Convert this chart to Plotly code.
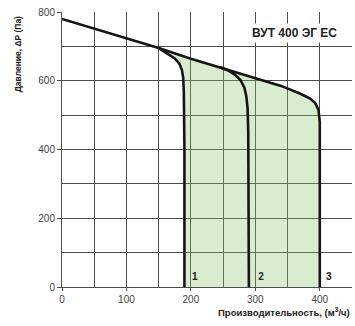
import plotly.graph_objects as go

# fan curve (3) and speed branches (1, 2)
main_x = [0, 150, 200, 250, 300, 340, 370, 385, 393, 398, 400, 400]
main_y = [780, 695, 664, 636, 606, 585, 562, 548, 535, 515, 480, 0]
c1_x = [150, 165, 175, 182, 186, 188, 189, 190, 190]
c1_y = [695, 678, 665, 650, 632, 610, 570, 400, 0]
c2_x = [245, 258, 268, 277, 283, 286, 288, 289, 290]
c2_y = [640, 630, 618, 602, 580, 555, 520, 450, 0]

curve_labels = ["1", "2", "3"]
label_x = [206, 309, 414]
label_y = [29, 29, 29]

# shaded working area: curve 1 up, along main curve, down to 0
fill_x = c1_x[::-1] + [x for x in main_x if x >= 150]
fill_y = c1_y[::-1] + [y for x, y in zip(main_x, main_y) if x >= 150]

line = dict(color="#151515", width=2.6)
fig = go.Figure()
fig.add_trace(go.Scatter(x=fill_x, y=fill_y, fill="toself", mode="lines",
                         line=dict(width=0), fillcolor="rgba(138,195,108,0.32)",
                         hoverinfo="skip"))
fig.add_trace(go.Scatter(x=main_x, y=main_y, mode="lines", line=line))
fig.add_trace(go.Scatter(x=c1_x, y=c1_y, mode="lines", line=line))
fig.add_trace(go.Scatter(x=c2_x, y=c2_y, mode="lines", line=line))
fig.add_trace(go.Scatter(x=label_x, y=label_y, mode="text", text=curve_labels,
                         textfont=dict(size=10, color="#222", family="Liberation Sans"),
                         texttemplate="<b>%{text}</b>"))

grid = "#4d4d4d"
fig.update_xaxes(range=[0, 450], tickvals=[0, 100, 200, 300, 400], showgrid=False,
                 minor=dict(tickvals=[50, 100, 150, 200, 250, 300, 350, 400, 450],
                            showgrid=True, gridcolor=grid, gridwidth=1),
                 showline=True, linecolor=grid, linewidth=1, ticks="outside",
                 ticklen=3, tickcolor=grid, zeroline=False,
                 tickfont=dict(size=10, color="#444"))
fig.update_yaxes(range=[0, 800], tickvals=[0, 200, 400, 600, 800], showgrid=False,
                 minor=dict(tickvals=[100, 200, 300, 400, 500, 600, 700],
                            showgrid=True, gridcolor=grid, gridwidth=1),
                 showline=True, linecolor=grid, linewidth=1, ticks="outside",
                 ticklen=4, tickcolor=grid, zeroline=False,
                 tickfont=dict(size=10, color="#444"))

fig.add_annotation(text="<b>ВУТ 400 ЭГ ЕС</b>", xref="paper", yref="paper",
                   x=0.80, y=0.925, xanchor="center", yanchor="middle",
                   showarrow=False, bgcolor="white",
                   font=dict(size=12, color="#222"), borderpad=2)
fig.add_annotation(text="<b>Производительность, (м<sup>3</sup>/ч)</b>", xref="paper",
                   yref="paper", x=1.0, y=-0.092, xanchor="right", yanchor="middle",
                   showarrow=False, font=dict(size=9.5, color="#222"))
fig.add_annotation(text="<b>Давление, ΔP (Па)</b>", xref="paper", yref="paper",
                   x=-0.153, y=0.845, xanchor="center", yanchor="middle",
                   textangle=-90, showarrow=False,
                   font=dict(size=8.5, color="#222"))

fig.update_layout(width=355, height=326, showlegend=False,
                  margin=dict(l=62, r=3, t=12, b=39),
                  plot_bgcolor="white", paper_bgcolor="white",
                  font=dict(family="Liberation Sans, Arial, sans-serif"))
fig.write_html("out.html", config={"displayModeBar": False},
               post_script="document.body.style.margin='0';")
